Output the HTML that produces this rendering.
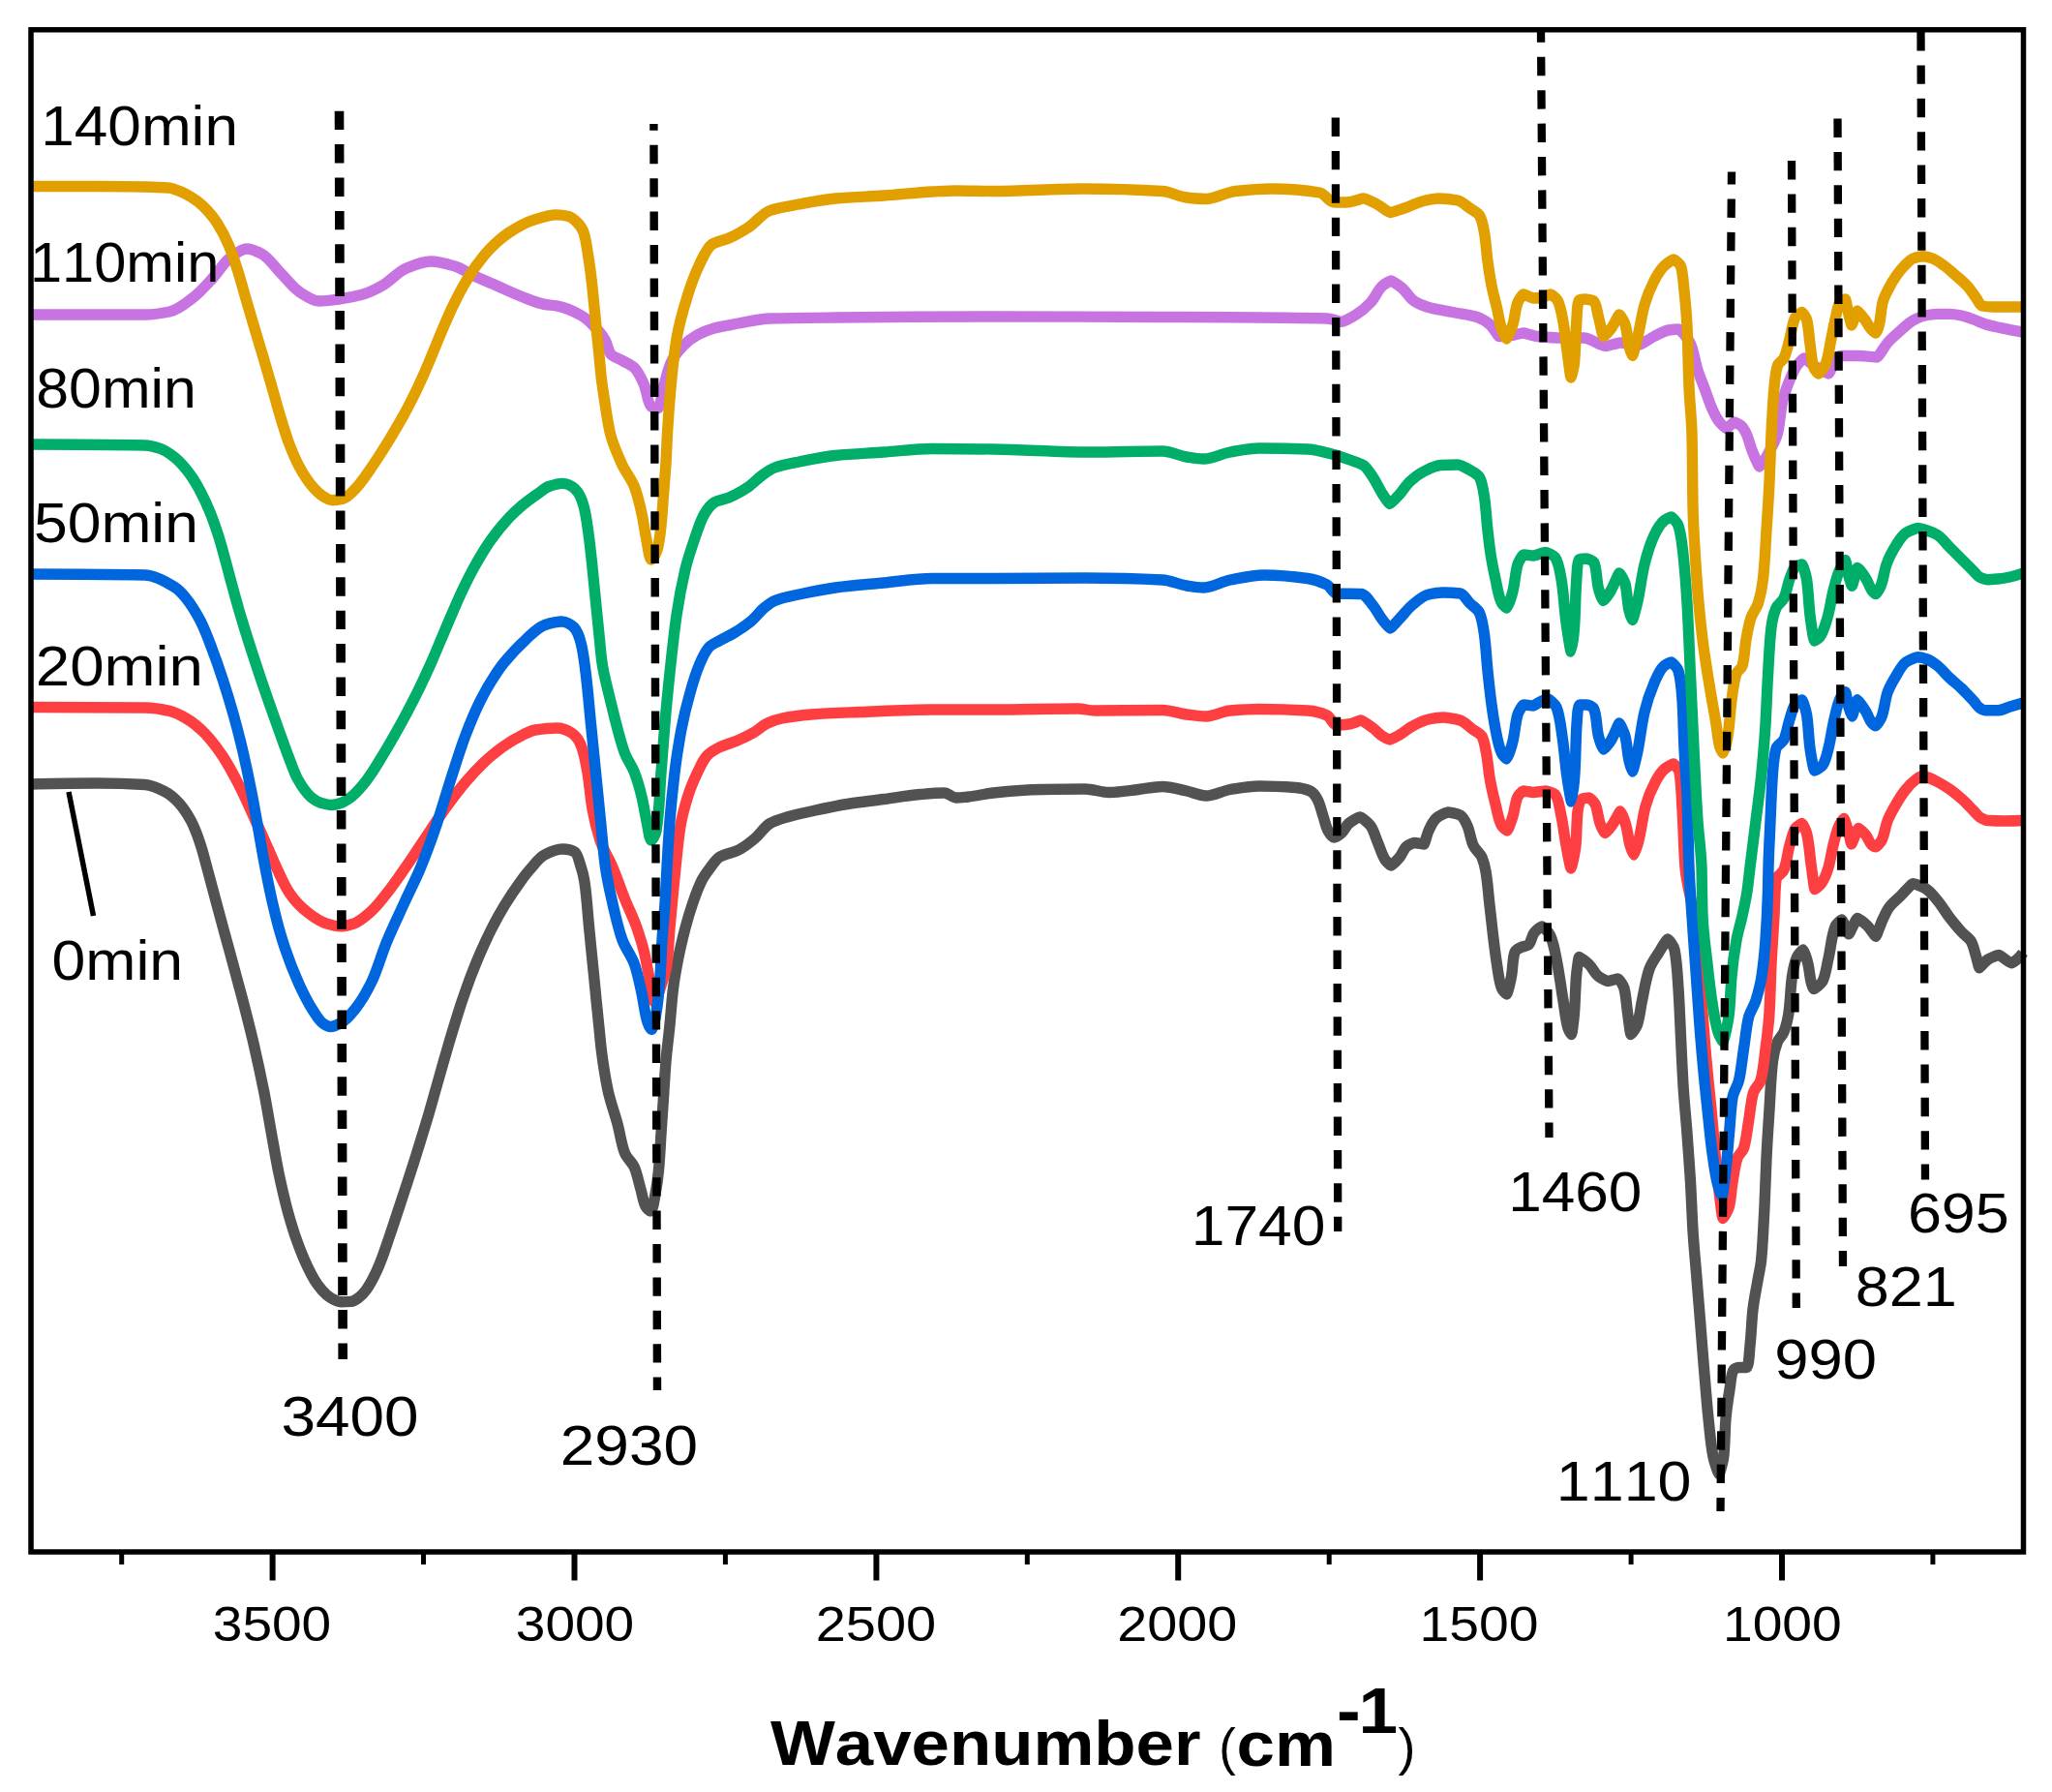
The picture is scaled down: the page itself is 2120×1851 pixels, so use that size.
<!DOCTYPE html>
<html><head><meta charset="utf-8"><title>FTIR spectra</title>
<style>html,body{margin:0;padding:0;background:#fff}svg{display:block}text{font-family:"Liberation Sans",Arial,Helvetica,sans-serif;fill:#000;font-kerning:none}</style></head>
<body>
<svg xmlns="http://www.w3.org/2000/svg" width="2120" height="1851" viewBox="0 0 2120 1851">
<rect width="2120" height="1851" fill="#fff"/>
<g fill="none" stroke-width="11.4" stroke-linejoin="round" stroke-linecap="butt">
<path stroke="#525252" d="M32.5 810C55 809.1 77.5 809 100 809C116.7 809 133.9 809.5 150 810.5C156.9 810.9 164.1 814.5 170.2 817.6C175.5 820.3 180.7 824.9 184.8 829.3C189.6 834.6 193.9 841.3 197.3 847.7C201 854.9 204 862.9 206.6 870.7C210.3 881.6 212.9 893.1 216 904.3C220.7 921.5 225.2 938.9 229.9 956.1C232.2 964.6 234.5 973.1 236.9 981.5C241.3 997.9 245.9 1014.3 250.2 1030.8C254.4 1047 258.6 1063.2 262.4 1079.6C266.2 1096 269.7 1112.4 273 1128.9C276.2 1145.7 278.9 1162.6 282 1179.4C283.9 1190.3 285.8 1201.1 288 1211.9C290.7 1224.7 293.6 1237.6 297 1250.2C299.3 1258.8 301.9 1267.4 304.7 1275.9C307.7 1284.5 310.9 1293.2 314.6 1301.6C318.4 1310.1 322.5 1319 327.8 1326.6C330.6 1330.5 333.9 1334.5 337.6 1337.6C339.7 1339.3 342.2 1341.1 344.7 1342.2C347.1 1343.3 349.8 1344.7 352.4 1344.7C355.7 1344.7 359.5 1344.6 362.7 1344.4C365.6 1344.2 368.6 1341.8 371 1340C373.7 1338 376.2 1335.1 378.3 1332.3C382.2 1327.1 385.3 1320.9 388.1 1315C390.2 1310.8 392 1306.3 393.7 1301.9C397.1 1293.1 400 1284 403.1 1275C406.1 1266.3 408.9 1257.6 411.8 1248.9C414.6 1240.5 417.3 1232.1 420.1 1223.7C422.8 1215.5 425.4 1207.4 428 1199.3C430.5 1191.3 433.1 1183.2 435.5 1175.2C438 1167.1 440.5 1158.9 442.9 1150.8C446 1140.2 449 1129.5 452 1118.8C455.3 1107.2 458.5 1095.6 461.9 1084.1C464.2 1076 466.6 1068 469.1 1060C471.7 1051.5 474.3 1043 477.1 1034.6C480 1026.2 483 1017.7 486.1 1009.3C489.3 1001 492.6 992.6 496.2 984.4C499.8 976 503.6 967.8 507.7 959.7C511.9 951.3 516.5 943.1 521.3 935.1C526.5 926.6 532.1 918.3 537.9 910.3C541.1 905.9 544.4 901.5 548 897.5C552.5 892.4 556.9 885.9 562.5 883C567.8 880.2 574.9 877 581.2 877C585.4 877 591.3 878.4 593.8 880C596.5 881.7 598.1 888.5 599.5 893C601.3 898.5 602.9 904.3 603.8 910C606.3 926.4 607.1 943.3 608.8 960C610.4 976.7 612.1 993.3 613.8 1010C615.4 1026.7 617 1043.3 618.8 1060C619.6 1067.9 620.3 1075.9 621.2 1083.8C623 1097.9 625.1 1112.1 628 1126C630.4 1137.8 634.9 1149.3 638 1161C640.7 1171 641.9 1181.8 645.5 1191C647.6 1196.3 653.2 1200.7 655.5 1206C658.4 1212.9 659.8 1221 662 1228.5C663.7 1234.3 664.4 1241.2 667 1246C668 1247.9 671 1251 672 1251C674.6 1251 675.9 1239.4 677 1233.5C678.6 1225.3 679.7 1216.9 680.5 1208.5C681.7 1196 682.2 1183.5 683 1171C683.8 1158.5 684.7 1146 685.5 1133.5C686.3 1121 687 1108.5 688 1096C689 1083.5 690.8 1071 692 1058.5C693.2 1046 694 1033.4 695.5 1021C696.7 1011 698.6 1000.9 700.5 991C702.6 980.1 705.2 969.2 708 958.5C710.2 950.1 712.7 941.7 715.5 933.5C718.4 925 721.4 916.3 725.5 908.5C727.8 904.1 731 900 734 896C736.8 892.4 739.5 887.8 743 885.5C748.4 882 756.8 881.1 763 878C769.2 874.9 775.1 870.1 780.5 865.5C785.8 861 789.8 853.8 795.5 850.5C800.5 847.6 807.1 845.8 813 844C821.2 841.6 829.6 839.8 838 838C850.4 835.3 862.9 832.5 875.5 830.5C887.9 828.5 900.5 827.2 913 825.5C925.5 823.8 938 821.5 950.5 820.5C958.8 819.8 967.5 819 975.5 819C979.8 819 983.7 824 988 824C992 824 996.3 823.4 1000.5 823C1009 822.1 1017.5 819.9 1026 819C1042.6 817.3 1059.3 815.8 1076 815.5C1091 815.2 1106.1 815 1121 815C1129.4 815 1137.6 818.5 1146 818.5C1156 818.5 1166 816.6 1176 815.5C1184.3 814.6 1192.7 812.5 1201 812.5C1209.4 812.5 1217.7 815.3 1226 817C1232.7 818.4 1239.3 822 1246 822C1254.3 822 1262.6 816.9 1271 815.5C1280.9 813.9 1291 812 1301 812C1313.5 812 1326.2 812.6 1338.5 813.5C1343.6 813.9 1349.5 815.2 1353.5 817C1356.4 818.4 1359.3 822.4 1361 825.5C1363.8 830.6 1365 837.2 1367 843C1368.7 848 1369.7 853.7 1372 858C1373.4 860.6 1376.1 865 1378.5 865C1380.7 865 1383.9 862.3 1386 860.5C1389 857.9 1390.5 853 1393.5 850.5C1396.6 847.8 1403.7 844 1405 844C1406.4 844 1413.5 849.5 1416 853C1419.4 857.7 1421 864.7 1423.5 870.5C1426 876.3 1427.7 883 1431 888C1432.5 890.2 1436.3 894 1437 894C1438 894 1443.4 888.6 1446 885.5C1448.9 882.1 1450.3 876.5 1453.5 874C1455.4 872.5 1460.1 870.5 1461 870.5C1462.1 870.5 1470.4 872 1471 872C1471.9 872 1474 862.4 1476 858C1478 853.6 1480.3 848.4 1483.5 845.5C1486.6 842.7 1494.5 839 1496 839C1497.4 839 1505.4 840.4 1508.5 842C1511.7 843.6 1514.3 849.1 1516 853C1518.7 859.1 1519.3 866.9 1522 873C1524 877.5 1529.1 881 1531 885.5C1532.8 889.9 1534.2 895.1 1535 900C1537 911.5 1537.6 923.3 1539 935C1541.4 955.3 1543.3 975.8 1546.5 996C1547.8 1004.4 1548.7 1013.8 1551.5 1021C1552.4 1023.2 1556.1 1027 1556.5 1027C1557.4 1027 1560.3 1014.7 1561.5 1008.5C1563 1000.3 1562.7 989.6 1565 983.5C1565.7 981.5 1569.1 979.6 1571.5 978.5C1573.8 977.4 1577.4 977.2 1579 976C1581.8 973.9 1582.4 966.9 1585 963.5C1586.9 961 1592.1 957 1593 957C1594.1 957 1599.9 962.6 1601.5 966C1605.5 974.4 1607 985.9 1609 996C1611.4 1008.4 1612.9 1021 1615 1033.5C1616.6 1043 1617.3 1053.1 1620 1062C1620.7 1064.3 1623.3 1068.5 1623.5 1068.5C1624.1 1068.5 1625.9 1053.5 1626.5 1046C1627.5 1033.5 1627.5 1020.9 1628.5 1008.5C1629.1 1001.8 1630.9 988.5 1631.5 988.5C1631.9 988.5 1638.6 993.2 1641.5 996C1645.3 999.6 1647.5 1005.5 1651.5 1008.5C1654.3 1010.6 1660.3 1013.5 1661.5 1013.5C1662.6 1013.5 1670.7 1011 1671.5 1011C1672.5 1011 1677.1 1017.4 1678 1021C1680 1028.6 1680.3 1037.7 1681.5 1046C1682.6 1053.5 1684.3 1068.5 1685 1068.5C1685.4 1068.5 1690.3 1062.1 1691.5 1058.5C1694.1 1050.9 1694.7 1041.8 1696.5 1033.5C1698.8 1022.6 1700.4 1011.2 1704 1001C1706.1 994.9 1710.5 989.2 1714 983.5C1716.8 978.9 1722 970 1723 970C1723.8 970 1729.2 977.1 1730 981C1732.5 993.1 1733.1 1007.6 1734 1021C1735.1 1037.6 1735.7 1054.3 1736.5 1071C1737.3 1087.7 1738 1104.3 1739 1121C1740 1137.7 1741.8 1154.3 1743 1171C1744.2 1187.7 1745.5 1204.3 1746.5 1221C1747.5 1237.7 1748 1254.3 1749 1271C1750 1287.7 1751.7 1304.3 1753 1321C1754.3 1337.3 1755.7 1353.7 1757 1370C1758.3 1386.7 1759.6 1403.3 1761 1420C1762.3 1435 1763.4 1450 1765 1465C1766.4 1478.4 1767.4 1492 1770 1505C1771.2 1511 1775.4 1522.5 1776 1522.5C1776.7 1522.5 1780.4 1509.3 1781 1502.5C1782.2 1490.2 1782 1477.5 1783 1465C1783.8 1455 1785.4 1444.9 1787 1435C1788.1 1428.3 1788.5 1418.5 1791 1415C1791.8 1413.9 1794.9 1412.5 1797 1412.5C1799.4 1412.5 1803.7 1412.5 1804.5 1412.5C1806.8 1412.5 1807.2 1397.5 1808 1390C1809.4 1377.6 1809.6 1364.9 1811 1352.5C1812.1 1342.4 1814.3 1332.5 1816 1322.5C1817.1 1315.8 1818.8 1309.2 1819.5 1302.5C1820.8 1290.1 1821.3 1277.5 1822 1265C1822.4 1258.7 1822.7 1252.3 1823 1246C1823.8 1229.3 1824.2 1212.7 1825 1196C1825.8 1179.3 1826.9 1162.7 1828 1146C1829.1 1129.3 1829.5 1112.4 1831.5 1096C1832.3 1089.3 1834.1 1082.1 1836.5 1076C1837.9 1072.4 1841.6 1069.6 1843 1066C1845.4 1059.9 1847 1052.7 1848 1046C1849.8 1033.7 1849.7 1020.8 1851.5 1008.5C1852.5 1001.8 1853.9 994.3 1856.5 988.5C1857.7 985.7 1862.5 981 1863 981C1863.8 981 1866.8 990.9 1868 996C1869.5 1002.5 1869.7 1009.6 1871.5 1016C1872 1017.9 1873.6 1021.6 1874 1021.6C1874.7 1021.6 1881.4 1016.6 1883 1013.5C1886.2 1007.2 1887.1 997.9 1889 990C1891.7 978.7 1892.2 965.1 1896.5 956C1897.6 953.7 1902.2 950 1902.8 950C1903.8 950 1909.1 964.8 1910 964.8C1911 964.8 1917.7 948.4 1919 948.4C1919.9 948.4 1926.1 953.1 1929 956C1932.3 959.2 1937 967.2 1937.8 967.2C1938.8 967.2 1942.4 955.6 1945 950C1947 945.8 1948.9 941.2 1951.5 937.5C1954.8 932.8 1959.8 929.1 1964 925C1968.1 920.9 1974.8 912.8 1976.5 912.8C1977.8 912.8 1985.4 915.4 1989 917.5C1993.8 920.2 1997.7 925.6 2001.5 930C2006.1 935.4 2009.6 941.8 2014 947.5C2018 952.6 2022.1 957.7 2026.5 962.5C2029.7 966 2034.4 968.7 2036.5 972.5C2038.8 976.8 2040 982.5 2041.5 987.5C2042.7 991.6 2044.4 999.8 2045 999.8C2045.6 999.8 2050.6 993 2054 991C2057.2 989.1 2063.8 986.5 2065 986.5C2066.6 986.5 2076.3 994.8 2077.8 994.8C2078.6 994.8 2082.9 991.9 2085 990C2086.9 988.3 2088.6 986.3 2090 984"/>
<path stroke="#fd3f42" d="M32.5 730.5C72 730.5 111 730.6 150 731C158.4 731.1 167.2 732.6 175.2 734.4C181.7 735.8 188.2 739.6 193.9 743C200 746.7 205.8 751.7 210.9 756.8C217.9 763.8 224.1 772.2 229.7 780.5C235.7 789.5 240.9 799.3 245.9 809C251.7 820.2 256.8 831.8 262 843.3C267.1 854.1 272 865 276.8 876C280 883.1 282.9 890.4 286.3 897.5C290.3 906 294.1 915.2 299.3 922.8C304.4 930.3 311.4 937.6 318.5 943C324.2 947.4 330.9 952.1 337.7 954.1C342 955.4 346.9 956.9 351.5 956.9C355.9 956.9 360.8 955.5 364.9 954.2C371.8 952.1 378.2 946 383.8 941C390.8 934.7 396.7 926.4 402.7 918.7C408.6 911.2 413.9 903.2 419.4 895.3C426.8 884.7 433.7 873.8 441 863.1C447.7 853.1 454.3 843 461.4 833.2C467.7 824.6 474.1 815.9 481 807.8C487 800.7 493.4 793.8 500.1 787.4C504.2 783.5 508.4 779.8 512.8 776.4C519.2 771.6 525.9 766.9 532.8 763.1C539.3 759.6 546 755.1 553 754C560.2 752.9 568.2 752 575.5 752C580.6 752 586.6 754.6 590.5 757C594.6 759.5 598.6 765.6 600.5 770.5C603.7 778.7 605.4 788.8 607 798C609.1 810.4 609.8 823.1 612 835.5C613.9 846.4 616.6 857.5 620 868C623.1 877.6 629 886.5 633 896C637.5 906.7 641.2 917.7 645.5 928.5C649.5 938.6 654.5 948.3 658 958.5C660.8 966.7 663.5 975.1 665.5 983.5C667.5 991.7 668.8 1000.2 670.5 1008.5C672.3 1017.3 673.6 1035 676 1035C677.7 1035 681.1 1023.8 683 1018C685.4 1010.8 688 1003.4 689 996C690.6 983.7 690.9 971 692 958.5C693.1 946 694.3 933.5 695.5 921C696.3 912.7 697.1 904.3 698 896C699.5 881.7 700.7 867.2 703 853C704.6 842.9 707.5 832.8 710.5 823C713.1 814.5 716.7 806 720.5 798C723.4 792 726.3 785 730.5 780.5C733.7 777.1 738.6 774.2 743 772C748.5 769.3 754.8 767.9 760.5 765.5C766.5 763 772.4 760.2 778 757C783.2 754.1 787.7 749.4 793 747C797.7 744.9 802.9 743 808 742C817.8 740 828 738.8 838 738C854.6 736.7 871.3 736.2 888 735.5C913 734.5 938 733 963 733C984 733 1005 733 1026 733C1055.2 733 1084.4 732 1113.5 732C1119.3 732 1125.2 734 1131 734C1154.2 734 1177.9 733.5 1201 733.5C1209.4 733.5 1217.6 736.9 1226 738C1232.6 738.8 1239.4 740 1246 740C1254.4 740 1262.6 734.7 1271 734C1280.9 733.2 1291 732.5 1301 732.5C1317.7 732.5 1334.6 733 1351 734C1357.8 734.4 1365.4 736.4 1371 739C1374.8 740.8 1377.1 749 1381 749C1384.5 749 1389.4 748.5 1393.5 748C1397.8 747.4 1404.6 744 1406 744C1407.5 744 1414.5 749.1 1418.5 752C1422 754.6 1424.9 758.3 1428.5 760.5C1430.8 761.9 1435.1 764 1436 764C1437.2 764 1442.8 760.8 1446 759C1450.3 756.5 1454.1 752.9 1458.5 750.5C1464 747.5 1469.9 744.2 1476 743C1480.8 742 1489.3 741 1491 741C1493 741 1503.2 742.4 1508.5 744C1513.1 745.4 1516.9 750 1521 753C1524.4 755.5 1529.4 757.5 1531 760.5C1533.7 765.5 1534.8 773.8 1536 780.5C1537.3 787.9 1537.8 795.6 1539 803C1540.5 812.2 1542.7 821.4 1545 830.5C1546.9 838.1 1548.1 847 1551.5 853C1552.6 854.9 1556.6 858 1557 858C1558 858 1561.4 848.1 1563 843C1565 836.5 1565.3 828.5 1568 823C1569.1 820.7 1573.2 817 1574 817C1575 817 1582.8 818.5 1584 818.5C1585.5 818.5 1595.1 817 1596.5 817C1597.7 817 1604.9 818.9 1606.5 820.5C1610.1 824.1 1611.4 835.4 1613 843C1615.1 852.9 1616.1 863 1618 873C1619.5 881 1622.4 897 1623 897C1623.6 897 1627.2 881.1 1628 873C1629.1 861.5 1628.7 849.4 1630 838C1630.5 833.8 1631.9 826.8 1634 825.5C1635.2 824.7 1640.8 824 1641.5 824C1642.4 824 1646.8 828 1648 830.5C1650.6 836 1650.8 844.1 1653 850.5C1654.2 854 1657.3 860.5 1658 860.5C1658.6 860.5 1663 855.7 1665 853C1668.5 848.4 1673.1 838 1674 838C1674.8 838 1678.6 847.9 1680 853C1681.8 859.5 1682.2 866.5 1684 873C1685 876.4 1687.6 883 1688 883C1688.6 883 1691.7 873.1 1693 868C1696 856.6 1696.9 844.3 1700 833C1702.3 824.5 1705.9 815.7 1710 808C1712.6 803 1715.9 797.4 1720 794C1722.4 792 1728.2 789 1729 789C1729.9 789 1734.4 794.8 1735 798C1737 809.2 1737.2 823 1738 835.5C1739.3 855.6 1739.4 876 1741 896C1742.3 912.8 1747.8 929.2 1750 946C1752.1 962.6 1753.5 979.3 1755 996C1756.5 1012.7 1757.7 1029.3 1759 1046C1760.3 1062.7 1761.5 1079.3 1763 1096C1764.5 1112.7 1766.4 1129.3 1768 1146C1769.4 1161 1770.6 1176 1772 1191C1773.2 1204 1774.5 1217 1776 1230C1777.1 1239.5 1779.2 1258.5 1780 1258.5C1780.4 1258.5 1785.4 1250.4 1786.5 1246C1788.4 1238.2 1788.6 1229.3 1790 1221C1791.4 1212.6 1792.4 1203.6 1795 1196C1796.2 1192.4 1800.4 1189.6 1801.5 1186C1804.2 1177.7 1804.9 1167.7 1806.5 1158.5C1808.2 1148.5 1808.8 1137.7 1811.5 1128.5C1812.8 1124.1 1817.8 1120.4 1819 1116C1821.8 1106 1822.6 1094.4 1824 1083.5C1825.6 1071 1827.3 1058.5 1828 1046C1829 1029.4 1829.2 1012.7 1830 996C1830.8 979.3 1832.1 962.7 1833 946C1833.7 933.5 1833.6 919.3 1835 908.5C1835.5 904.8 1841.5 902.2 1843 898.5C1846.1 891 1846.6 881.4 1849 873C1850.7 867.1 1852 859.9 1855 855.5C1856.3 853.5 1860.9 850.5 1861.5 850.5C1862.3 850.5 1865.6 857 1866.5 860.5C1869.3 871.6 1869.7 884.2 1871.5 896C1872.6 903.5 1874.3 918.5 1875 918.5C1875.3 918.5 1880.3 914.5 1882 912C1885.1 907.5 1887.4 901.5 1889 896C1891.2 888.6 1892.1 880.6 1894 873C1895.7 866.3 1897.2 859.1 1900 853C1901.2 850.3 1904.6 845.5 1905 845.5C1905.8 845.5 1908.6 855.4 1910 860.5C1911 864.3 1912.4 872 1912.8 872C1913.4 872 1918.9 855.5 1920 855.5C1920.7 855.5 1925.8 860.2 1928 863C1930.3 866 1931.3 870.9 1934 873C1934.9 873.7 1937.4 874.8 1937.8 874.8C1938.6 874.8 1942.7 870.5 1944 868C1947 862.3 1947.5 854.4 1950 848C1952.3 842 1955.7 836.1 1959 830.5C1962 825.3 1965.2 820.1 1969 815.5C1971.9 811.9 1975.3 808.2 1979 805.5C1981.1 804 1985.1 801.5 1986 801.5C1986.8 801.5 1990.7 802.7 1993 803.5C1995.9 804.5 1998.7 806.1 2001.5 807.5C2005.8 809.7 2010 812.3 2014 815C2018.4 818 2022.5 821.5 2026.5 825C2030.9 828.9 2034.9 833.3 2039 837.5C2041 839.6 2042.7 842.3 2045 843.8C2047.6 845.4 2050.9 847.3 2054 847.5C2059.1 847.8 2068.1 848 2070 848C2072.3 848 2083.3 847.9 2090 847.5"/>
<path stroke="#0066dd" d="M32.5 593C73.9 593 112.6 593.2 150 594C160.4 594.2 171.5 600.9 180.3 606.4C184.4 609 188.2 613 191.4 616.8C197.4 624.1 202.6 632.7 207 641.2C211.5 650 215 659.4 218.5 668.7C222.9 680.1 226.9 691.7 230.6 703.3C234.6 715.5 238.3 727.8 241.7 740.1C245.1 752.4 248.3 764.8 251.2 777.2C254.3 790.5 257.1 803.9 259.7 817.3C262.5 831.3 264.9 845.4 267.4 859.5C268.6 866.3 269.8 873.1 271 879.9C272.1 885.7 273.1 891.5 274.2 897.3C276.4 908.6 278.6 919.8 281.2 931C283.1 939.4 285.2 947.8 287.4 956.2C289.6 964 291.9 971.9 294.5 979.6C298.7 992.1 303.5 1004.5 308.9 1016.4C313.1 1025.5 317.6 1034.8 323 1043.2C326.3 1048.2 329.6 1054.6 334.2 1057.5C336.2 1058.8 339 1060.5 341.5 1060.5C344.9 1060.5 348.8 1058.5 351.8 1056.9C357.6 1053.9 362.6 1047.7 366.8 1042.4C373.6 1033.9 379.4 1023.6 384.2 1013.6C390.2 1000.8 393.9 986.5 399.4 973.2C405.2 959.1 411.9 945.4 418.2 931.5C423.6 919.9 429.4 908.6 434.3 896.8C439.7 883.8 444.6 870.5 449.2 857.2C455.1 840.3 459.9 823 465.4 805.9C470.4 790.8 475 775.5 480.5 760.6C485.2 748.2 490.2 735.9 496.1 724.1C500.9 714.5 506.4 705 512.4 696C514.9 692.2 517.6 688.4 520.4 684.9C527.3 676.4 534.8 668.2 542.9 660.9C549.1 655.3 555.5 647.9 563 645.5C568.3 643.8 574.9 642 580.5 642C584.8 642 590.4 645.3 593 648C596.6 651.7 599.1 659.5 600.5 665.5C603 675.9 604.2 687.1 605.5 698C607.5 714.6 608.8 731.3 610.5 748C612.2 764.7 613.8 781.3 615.5 798C617.2 814.7 618.8 831.3 620.5 848C622.1 864 623.3 880.1 625.5 896C627.2 908.6 630.2 921.1 633 933.5C635.9 946.1 638.7 959 643 971C646.1 979.6 652.6 987.3 655.5 996C658.8 1005.6 660.8 1015.9 663 1026C665.2 1035.9 665.9 1046.6 669 1056C669.9 1058.6 672 1063.5 673 1063.5C675.2 1063.5 677 1051.9 678 1046C680 1033.7 681.1 1021 682 1008.5C682.9 996 683.2 983.5 684 971C684.8 958.5 686.2 946 687 933.5C687.8 921 688.3 908.5 689 896C689.9 880 690.8 864 692 848C693.3 831.3 695 814.6 697 798C698.8 782.9 701.2 767.9 704 753C706.4 740.4 709.5 727.8 713 715.5C715.8 705.4 718.9 695 723 685.5C725.6 679.4 728.7 672.2 733 668C735.5 665.5 739.6 663.9 743 662C747.9 659.2 753.2 656.9 758 654C764 650.4 770.1 646.4 775.5 642C780.9 637.6 785 631.3 790.5 627C793.6 624.6 797 621.9 800.5 620.5C808.2 617.4 817.1 615.8 825.5 614C837.9 611.3 850.4 608.7 863 607C879.6 604.8 896.3 603.6 913 602C929.7 600.4 946.3 597.5 963 597.5C984 597.5 1005 597.5 1026 597.5C1057.7 597.5 1089.3 597 1121 597C1147.7 597 1174.8 597.6 1201 599C1209.4 599.4 1217.6 603.7 1226 605C1231.8 605.9 1237.8 607 1243.5 607C1252.8 607 1261.7 600.8 1271 599C1282.5 596.8 1294.3 594 1306 594C1320.9 594 1336.4 595.5 1351 597.5C1357.8 598.4 1365.2 601 1371 604C1374.7 605.9 1377.2 612.8 1381 613C1388 613.4 1399.1 613.2 1406 613.5C1410.8 613.7 1414.9 621.1 1418.5 625.5C1422.3 630 1424.8 635.8 1428.5 640.5C1430.8 643.5 1435.1 649 1436 649C1437.1 649 1442.7 642.4 1446 639C1450.3 634.6 1453.9 629.4 1458.5 625.5C1463.7 621.1 1469.6 615.4 1476 614C1480.6 613 1489.2 612 1491 612C1493 612 1503.7 612.4 1508.5 613C1512.4 613.5 1515.2 619.7 1518.5 623C1521.8 626.3 1526.9 629.2 1528.5 633C1531.2 639.2 1532.5 647.9 1533.5 655.5C1535.2 667.9 1535.7 680.5 1537 693C1537.9 702 1538.9 711 1540 720C1541.4 731 1542.9 742.1 1545 753C1546.6 761.4 1548.1 770.8 1551.5 778C1552.5 780.2 1556.1 784 1556.5 784C1557.5 784 1561.5 771.8 1563 765.5C1565.2 756.5 1565.4 746.5 1568 738C1569.1 734.5 1573.1 728 1574 728C1574.8 728 1582.9 729 1584 729C1585.1 729 1589.9 725.3 1593 724C1594.9 723.2 1598.4 722 1599 722C1600.2 722 1606.6 727.2 1608 730.5C1611.4 738.5 1612.5 750.4 1614 760.5C1616.1 774.6 1617 788.9 1619 803C1620.2 811.4 1623.1 828 1623.5 828C1624 828 1626.4 808 1627 798C1628 781.4 1627.9 764.6 1629 748C1629.5 741.3 1630 728 1632 728C1632.7 728 1636.8 728 1639 728C1641.7 728 1645.6 730.3 1646.5 732C1649.7 737.8 1649.2 751.3 1651.5 760.5C1652.7 765.1 1655.7 774 1656.5 774C1657.1 774 1662 768.6 1664 765.5C1667.7 759.9 1672 747 1673 747C1673.7 747 1677.8 755.8 1679 760.5C1681 768.5 1681.2 777.3 1683 785.5C1683.9 789.4 1686.1 797 1686.5 797C1687.1 797 1690.1 784.4 1691.5 778C1694.5 764 1695.7 749.4 1699 735.5C1701.4 725.3 1704.9 715 1709 705.5C1711.6 699.4 1714.6 691.9 1719 688C1720.9 686.3 1725.8 684 1726.5 684C1727.5 684 1733.1 689.7 1734 693C1736.4 701.6 1737.4 713 1738 723C1739.1 739.6 1739.2 756.3 1740 773C1740.8 789.7 1742.4 806.3 1743 823C1743.9 847.3 1744.1 871.7 1745 896C1745.6 912.7 1746.9 929.3 1748 946C1749.1 962.7 1750.3 979.3 1751.5 996C1752.7 1012.7 1753.8 1029.3 1755 1046C1756.2 1062.7 1757.5 1079.3 1759 1096C1760.5 1112.7 1762.2 1129.3 1764 1146C1765.6 1161 1767 1176.1 1769 1191C1770.4 1201 1771.7 1211.2 1774 1221C1775.2 1226.1 1778.6 1236 1779 1236C1779.7 1236 1781.9 1217.7 1783 1208.5C1784.4 1196 1785.3 1183.5 1786.5 1171C1787.7 1158.5 1788 1145.6 1790 1133.5C1791 1127.5 1795.1 1122 1796.5 1116C1798.9 1105.5 1799.8 1094.3 1801.5 1083.5C1803.2 1072.7 1804 1061.4 1806.5 1051C1807.9 1045 1812.1 1039.5 1814 1033.5C1816.5 1025.4 1818.7 1016.9 1820 1008.5C1821.9 996.1 1823.1 983.5 1824 971C1825.2 954.4 1826 937.7 1826.5 921C1826.7 912.7 1826.8 904.3 1827 896C1827.4 880 1828.3 864 1829 848C1829.8 831.3 1830.2 814.6 1831.5 798C1832.2 789.6 1832.9 780.1 1835 773C1836 769.6 1841.4 767.3 1843 764C1845.9 758 1846.7 749.9 1849 743C1850.8 737.6 1852 730.7 1855 727C1856.3 725.3 1861.1 723 1861.5 723C1862.4 723 1865.6 732.9 1866.5 738C1868.4 749.4 1868.4 761.4 1870 773C1871.1 780.7 1873.7 796 1874.6 796C1875 796 1881.4 792.8 1883 790.5C1886 786.3 1887.5 778.9 1889 773C1891.5 763.2 1892.6 752.9 1895 743C1896.8 735.4 1898.3 727 1901.5 720.5C1902.6 718.3 1906.2 714.6 1906.5 714.6C1907.2 714.6 1908.6 725.3 1910 730.5C1910.9 733.7 1913 740 1913.4 740C1914.1 740 1918.1 722.8 1919 722.8C1919.7 722.8 1925.3 731.1 1928 735.5C1930.2 739.2 1931.3 744 1934 747C1935 748.1 1937.4 749.8 1937.8 749.8C1938.6 749.8 1942.7 743.8 1944 740.5C1947 732.9 1947.3 723.4 1950 715.5C1952.1 709.4 1955.6 703.6 1959 698C1961.9 693.1 1964.9 687 1969 684C1972.3 681.7 1980 678.8 1981.5 678.8C1982.6 678.8 1988 680 1991 681C1994.7 682.3 1998.3 685 2001.5 687.5C2006.1 691 2009.7 696 2014 700C2018 703.8 2022.5 707.2 2026.5 711C2030.8 715.1 2035 719.5 2039 724C2041.1 726.3 2042.6 729.4 2045 731C2046.8 732.2 2049.3 733.8 2051.5 733.8C2055.5 733.8 2059.9 733.8 2064 733.8C2068.3 733.8 2072.3 731.2 2076.5 730C2081 728.7 2085.5 727.3 2090 726"/>
<path stroke="#00ae6a" d="M32.5 459C72.5 459 111.4 459.2 150 460C155 460.1 160.3 461.7 164.9 463.2C170.2 465 175.4 468.6 179.8 472C184.5 475.5 188.6 480.2 192.4 484.8C194.7 487.5 196.8 490.5 198.8 493.5C201.2 497.2 203.5 501 205.6 504.9C209.8 512.7 213.6 520.7 216.9 528.9C220.2 536.9 223 545.3 225.7 553.6C228.3 561.8 230.5 570.2 232.8 578.5C235.1 586.9 237.2 595.3 239.5 603.6C241.6 611.6 243.9 619.5 246.1 627.5C248.4 635.2 250.7 642.9 253 650.5C258.2 667.2 263.6 683.8 269.2 700.4C274.9 717.2 280.8 733.9 286.8 750.6C290.5 760.9 294.1 771.3 298.1 781.6C301.2 789.4 303.8 797.7 307.7 804.9C311.3 811.4 315.8 818.5 321.2 823.2C324.2 825.7 328.1 828.4 331.9 829.4C335.3 830.4 339.3 831.5 342.9 831.5C346.3 831.5 349.9 830.3 353.1 829.2C355.8 828.3 358.5 826.4 360.9 824.7C366.4 820.7 371.3 815.1 375.7 809.8C379 806 381.8 801.6 384.7 797.4C388.6 791.6 392.1 785.6 395.7 779.6C399.8 772.9 403.7 766.2 407.6 759.4C410 755.1 412.4 750.8 414.8 746.5C421.3 734.4 427.7 722.3 433.7 709.9C437.9 701.3 441.9 692.5 445.9 683.6C449.3 675.9 452.5 668.1 455.8 660.3C459.4 651.9 462.8 643.5 466.5 635.1C470.1 626.7 473.8 618.2 477.7 609.9C481.7 601.4 485.9 592.9 490.5 584.7C495.3 576.2 500.3 567.6 505.9 559.6C512 550.9 518.8 542.4 526 534.7C530 530.4 534.3 526.4 538.7 522.6C544.1 518.1 549.8 514 555.6 510C559.3 507.4 562.9 503.9 567 502.5C571.4 501 576.7 499.4 581.2 499.4C585.6 499.4 591.1 502.5 594 505C598.1 508.6 601.3 516.4 603 522.5C605.2 530.4 606.3 539.1 607.5 547.5C609.3 559.9 610.6 572.5 611.9 585C613.2 597.5 614.4 610 615.6 622.5C616.8 635 618.1 647.5 619.4 660C620.2 667.9 620.8 675.9 621.9 683.8C623.7 697 627.4 710 630.5 723C632.9 733 635.3 743.1 638 753C640.3 761.4 642.4 770 645.5 778C648.1 784.9 652.9 791.1 655.5 798C658.6 806 661 814.6 663 823C665 831.2 666.2 839.7 668 848C669.5 854.7 670.8 868 673 868C674.2 868 677.4 861.5 678 858C681.3 839.3 681.4 818 683 798C684.7 777.2 686.1 756.3 688 735.5C689.5 718.8 691.2 702.1 693 685.5C694.8 668.8 696.6 652.1 699 635.5C701.3 619.6 704.3 603.6 708 588C710.6 577 714.3 566.2 718 555.5C721 547.1 723.6 537.9 728 530.5C730.5 526.3 734.1 521.3 738 519C742.1 516.6 748.2 516 753 514C759.9 511.1 766.8 507.2 773 503C778.3 499.4 782.7 494.2 788 490.5C791.9 487.7 796.1 484.6 800.5 483C808.3 480.1 817.1 478.7 825.5 477C837.9 474.5 850.4 471.8 863 470.5C879.6 468.8 896.3 468.2 913 467C929.7 465.8 946.3 463.5 963 463.5C984 463.5 1005 463.7 1026 464C1059.3 464.4 1092.7 467 1126 467C1151 467 1176.4 466 1201 466C1209.4 466 1217.6 470.7 1226 472C1231.8 472.9 1237.7 474 1243.5 474C1252.8 474 1261.7 468.6 1271 467C1280.9 465.3 1291 463 1301 463C1317.6 463 1334.5 463.3 1351 464C1359.4 464.3 1367.8 466.9 1376 469C1382.8 470.7 1389.4 473.1 1396 475.5C1400.2 477 1405.1 478.3 1408.5 480.5C1412.5 483.2 1415.5 488.6 1418.5 493C1422.2 498.5 1424.8 504.9 1428.5 510.5C1430.8 514 1435.1 520.5 1436 520.5C1437.1 520.5 1442.9 514 1446 510.5C1449.5 506.5 1452.3 501.6 1456 498C1460.4 493.8 1465.6 489.7 1471 487C1476.4 484.3 1482.5 480.8 1488.5 480.5C1494.1 480.2 1504.1 480 1506 480C1507.5 480 1514.6 483.3 1518.5 485.5C1522.1 487.5 1526.9 490 1528.5 493C1531.2 498 1532.5 506.3 1533.5 513C1535.2 524.5 1535.7 536.4 1537 548C1537.9 556 1538.8 564 1540 572C1541.3 580.7 1543.1 589.4 1545 598C1546.9 606.4 1548 616.2 1551.5 623C1552.5 624.9 1556.1 628 1556.5 628C1557.6 628 1561.5 616.5 1563 610.5C1565.2 601.6 1565.4 591.5 1568 583C1569.1 579.5 1573.1 573 1574 573C1574.8 573 1582.9 574 1584 574C1585.5 574 1595.1 570.5 1596.5 570.5C1597.7 570.5 1604.8 573.3 1606.5 575.5C1610 580.1 1611.7 590.4 1613 598C1615.5 612.7 1616 628.1 1618 643C1619.4 653 1622.5 673 1623 673C1623.4 673 1625.9 656.4 1626.5 648C1627.6 633.1 1627.5 617.9 1628.5 603C1629.1 594.6 1629.4 579.7 1631.5 578C1632.1 577.5 1638.2 577 1639 577C1639.9 577 1645.6 579 1646.5 580.5C1649.7 585.6 1649.2 599.1 1651.5 608C1652.6 612.3 1655.8 620.5 1656.5 620.5C1657.2 620.5 1661.9 614 1664 610.5C1667.5 604.7 1671.9 592 1673 592C1673.7 592 1678 599.1 1679 603C1681.2 611.6 1681 621.6 1683 630.5C1683.8 633.9 1686.1 640.5 1686.5 640.5C1687.1 640.5 1690.1 628.9 1691.5 623C1694.6 609.8 1695.8 596.1 1699 583C1701.5 572.8 1704.6 562.3 1709 553C1711.5 547.7 1714.8 541.5 1719 538C1721 536.4 1725.8 534 1726.5 534C1727.5 534 1732.9 539.7 1734 543C1736.9 551.6 1737.9 563 1739 573C1740.8 589.6 1742 606.3 1743 623C1744.5 648 1745.3 673 1746.5 698C1747.7 723 1748.8 748 1750 773C1751.2 798 1752.3 823 1754 848C1755.1 864 1757.5 880 1758 896C1758.5 912.6 1758.4 929.4 1759 946C1759.6 962.7 1762.1 979.4 1764 996C1765.5 1009.4 1766.9 1022.7 1769 1036C1770.6 1046.1 1772 1056.5 1775 1066C1776.1 1069.5 1779.6 1076 1780 1076C1781.1 1076 1785.4 1056.1 1786.5 1046C1787.8 1033.6 1787.9 1021 1789 1008.5C1790.1 996 1791.8 983.4 1794 971C1795.5 962.6 1798.2 954.4 1800 946C1801.8 937.7 1803.7 929.4 1805 921C1806.2 912.7 1807 904.3 1808 896C1810 880 1812 864 1814 848C1816 831.3 1818.4 814.7 1820 798C1821.6 781.4 1823 764.7 1824 748C1825 731.3 1825.5 714.7 1826.5 698C1827.5 681.3 1828 664.4 1830 648C1830.8 641.3 1832.5 633.9 1835 628C1836.5 624.3 1841.3 621.6 1843 618C1845.8 612.1 1846.6 604.5 1849 598C1850.6 593.7 1852.2 587.8 1855 585.5C1856.4 584.4 1861.1 583 1861.5 583C1862.4 583 1865.7 592.9 1866.5 598C1868.4 610.2 1868.5 623.1 1870 635.5C1871.1 644.4 1873.6 662 1874.6 662C1874.9 662 1878.8 659.6 1880 658C1883.9 653 1886 644.8 1888 638C1890.6 629.1 1891.7 619.6 1894 610.5C1895.7 603.6 1897.4 596.5 1900 590C1901.6 586 1906 578.4 1906.5 578.4C1907.1 578.4 1908.6 589.6 1910 595C1910.9 598.5 1913 605.4 1913.4 605.4C1914.1 605.4 1918.1 586.5 1919 586.5C1919.7 586.5 1925.5 593.9 1928 598C1930.3 601.7 1931.4 606.6 1934 610C1935 611.3 1937.4 613.5 1937.8 613.5C1938.5 613.5 1941.8 608.3 1943 605.5C1945.9 598.6 1946.5 590.2 1949 583C1951.4 576.1 1955.1 569.2 1959 563C1961.8 558.6 1965 553.2 1969 550.5C1972.4 548.3 1980 545.5 1981.5 545.5C1982.6 545.5 1987.9 547 1991 548C1994.6 549.2 1998.4 550.6 2001.5 552.5C2006.3 555.4 2009.8 560.8 2014 565C2018.2 569.2 2022.3 573.3 2026.5 577.5C2030.7 581.7 2034.8 585.8 2039 590C2041 592 2042.7 594.8 2045 596C2047.5 597.3 2052.9 598.8 2054 598.8C2055.1 598.8 2060.7 598.3 2064 598C2068.2 597.6 2072.4 596.9 2076.5 596C2081.1 595.1 2085.6 593.6 2090 592"/>
<path stroke="#c774e2" d="M32.5 325C71.9 325 111 325 150 325C158.4 325 167.3 323.6 175 322C184 320.1 192.5 312.8 200 307C207.3 301.4 213.6 293.9 220 287C225.9 280.6 230.5 272.1 237 267C242.1 263 248.7 257 255 257C259.8 257 265.7 259.8 270 262C277.7 266 283.3 275.3 290 282C296.7 288.7 302.4 297.2 310 302C315.9 305.8 323 311 330 311C336.4 311 343.4 309.9 350 309C358.4 307.9 367 306.3 375 304C381.9 302 388.7 298.5 395 295C403.8 290.1 410.9 280.7 420 277C427.6 273.8 436.6 270 445 270C453.3 270 462.1 272.7 470 275C477 277 483.3 281.9 490 285C497.6 288.5 505.3 291.7 513 295C521.3 298.6 529.5 302.7 538 306C546.2 309.1 554.4 313.1 563 314.5C566.9 315.1 571.1 315.2 575 315.9C583.6 317.4 592.5 321.4 600 325.6C604.5 328.1 608.8 331.9 612.5 335.6C617.1 340.2 621.9 345.4 625 351C627.6 355.6 628.3 362.6 631.2 366C633.7 368.8 639.1 370.3 643 372.5C647.2 374.9 652.4 376.9 655.5 380C659.8 384.3 662.9 391.4 665.5 397.5C668.6 404.7 668.8 416.6 673 420C674.1 420.9 678 422 679 422C682.7 422 683.3 407.3 685.5 400C688 391.7 689.6 382.6 693 375C695.8 368.7 700.7 362.5 705.5 357.5C709.7 353.1 715.1 348.9 720.5 346C725.9 343.1 732 340.6 738 339C746.1 336.8 754.6 335.5 763 334C773.8 332.1 784.6 329.3 795.5 329C817.9 328.3 840.5 328.2 863 328C917.3 327.5 971.7 327 1026 327C1084.3 327 1142.7 327.2 1201 327.5C1257.7 327.7 1315.3 327.7 1371 329C1376 329.1 1384.3 332.5 1386 332.5C1387.8 332.5 1396.4 327.9 1401 325C1406.4 321.6 1411.7 317.2 1416 312.5C1420.8 307.4 1423.4 299.4 1428.5 295C1430.8 293 1436 290 1437 290C1438.4 290 1445 294.7 1448.5 297.5C1453.1 301.3 1456.2 307.9 1461 311C1465.3 313.8 1470.8 316 1476 317.5C1484 319.8 1492.7 320.8 1501 322.5C1509.3 324.2 1518.2 325 1526 327.5C1530.6 329 1535.4 332 1539 335C1542.9 338.2 1547.6 347.5 1549 347.5C1550.4 347.5 1559 346.7 1564 346C1567.4 345.5 1572.8 344 1574 344C1575.8 344 1583.9 347 1589 347.5C1597.2 348.3 1605.7 349 1614 349C1621.5 349 1629.3 349 1636.5 349C1641.7 349 1646.4 353.2 1651.5 355C1654 355.9 1658.1 357.5 1659 357.5C1660.7 357.5 1672.2 354 1674 354C1676.3 354 1691.8 356 1694 356C1695.9 356 1703.9 350 1709 347.5C1713.9 345.1 1718.8 341.8 1724 341C1727.2 340.5 1733.1 340 1734 340C1735.8 340 1744 349.5 1746.5 355C1750.1 363.1 1751.1 373.5 1754 382.5C1756.2 389.3 1759 395.8 1761.5 402.5C1764 409.2 1766.1 416.1 1769 422.5C1771.1 427.1 1773.4 432.2 1776.5 436C1778.5 438.5 1783.1 442.5 1784 442.5C1784.9 442.5 1790.6 436 1791.5 436C1792.3 436 1797.1 438.3 1799 440C1801.1 441.8 1802.7 444.9 1804 447.5C1806.6 452.9 1807.7 459.3 1810 465C1812.3 470.8 1816.9 482 1818 482C1818.8 482 1823.7 474.2 1826 470C1830 462.8 1834.6 455.3 1836.5 447.5C1839 437.2 1839.2 425.6 1841.5 415C1843.2 407.4 1846 399.8 1849 392.5C1851.1 387.4 1853.4 381.9 1856.5 377.5C1858.5 374.7 1863.1 370 1864 370C1865.1 370 1870.5 375.2 1874 377.5C1878.8 380.6 1887.6 386 1889 386C1890.8 386 1896.1 367.5 1901.5 367.5C1905.7 367.5 1913.2 367.5 1919 367.5C1925.7 367.5 1937.2 369 1939 369C1940.8 369 1946.9 357.5 1951.5 352.5C1955.3 348.4 1959.7 344.7 1964 341C1968 337.5 1972 333.5 1976.5 331C1980.3 328.9 1984.7 326.8 1989 326C1993 325.2 1997.3 324.4 2001.5 324.4C2005.6 324.4 2009.9 324.4 2014 324.4C2018.2 324.4 2022.4 325.2 2026.5 326C2030.8 326.8 2034.9 328.5 2039 330C2043.2 331.5 2047.2 333.7 2051.5 335C2055.6 336.2 2059.8 337.1 2064 338C2068.2 338.9 2072.3 339.8 2076.5 340.6C2081 341.5 2085.5 342.3 2090 343"/>
<path stroke="#e19f00" d="M32.5 192.5C55 192.5 77.5 192.5 100 192.5C116.7 192.5 133.3 192.7 150 193C158.4 193.1 167 193.4 175.2 194.2C177 194.4 178.8 195.1 180.5 195.7C184.5 197 188.5 198.6 192.2 200.5C196.4 202.7 200.6 205.4 204.4 208.3C208.1 211.2 211.7 214.6 214.9 218.1C218.2 221.8 221.5 225.9 224.1 230.1C229 237.7 233.2 246 236.7 254.3C240.2 262.7 243.1 271.6 245.9 280.4C248.6 288.9 250.8 297.6 253.3 306.2C255.7 314.4 258.1 322.5 260.5 330.7C262.8 338.6 265.2 346.5 267.6 354.4C270 362.4 272.4 370.3 274.7 378.3C277.1 386.5 279.5 394.6 281.8 402.8C284.3 411.6 286.6 420.4 289.3 429.2C292 438.2 294.7 447.3 297.9 456.1C301.2 464.9 304.7 473.7 309.1 481.9C313.3 489.7 318.3 497.7 324.2 504.1C327.4 507.6 331.2 511.4 335.3 513.6C337.7 514.9 340.5 516.7 343.3 516.7C346.9 516.7 351 515.9 354.4 515.1C358.4 514 362.1 510 365.2 506.9C373.2 499.4 379.3 489.1 385.7 479.9C391.6 471.4 397.1 462.5 402.5 453.7C407.5 445.5 412.3 437.2 417 428.9C419.8 423.8 422.5 418.7 425.1 413.5C428.9 406.1 432.4 398.6 435.8 391.1C439.6 382.8 443.1 374.3 446.6 365.8C450.2 357.2 453.7 348.4 457.4 339.8C461.1 331.1 464.8 322.4 469 313.9C473.2 305.2 477.7 296.5 482.7 288.4C488 279.8 493.9 271.4 500.3 263.7C503.7 259.6 507.4 255.6 511.3 252C515.8 247.9 520.6 243.7 525.7 240.4C533.3 235.5 541.5 230.5 550 227.7C557.9 225.1 566.6 221.9 575 221.9C579.1 221.9 583.8 222.6 587.5 223.5C590.8 224.3 594.1 227.5 596.5 230C599.1 232.7 601.8 236.4 603 240C605.5 247.6 606.4 256.6 607.8 265C609.1 273.3 610.3 281.6 611.2 290C612.2 298.3 612.9 306.7 613.8 315C614.6 323.3 615.4 331.7 616.2 340C617.1 348.3 617.9 356.7 618.8 365C619.6 373.3 620.3 381.7 621.2 390C622.2 397.9 623.4 405.9 624.6 413.8C626.4 425.2 627.8 436.9 630.5 448C633.2 459.1 638.2 470 643 480.5C646.6 488.2 652.6 495.1 655.5 503C658.8 511.7 661 521.2 663 530.5C665 539.6 666.1 548.9 668 558C669.4 564.7 670.7 578 673 578C674.3 578 678 571.5 679 568C681.2 560.3 682.1 551.4 683 543C684.1 532.2 684.7 521.3 685.5 510.5C686.3 499.7 687.4 488.8 688 478C688.6 467.8 688.9 457.7 689.5 447.5C690.4 431.7 691.6 415.8 693 400C694.5 383.3 696.3 366.5 699 350C701.5 334.8 705.9 319.7 710.5 305C713.9 294 718 282.8 723 272.5C726.4 265.5 730.1 256.3 735.5 252.5C739.8 249.5 747.4 248.5 753 246C759.9 242.9 766.7 239.1 773 235C780.9 229.9 787.2 220.5 795.5 217.5C804.4 214.3 815.5 212.9 825.5 211C837.9 208.7 850.4 206.1 863 205C879.6 203.5 896.3 203.1 913 202C929.7 200.9 946.3 198.9 963 198C971.3 197.6 979.7 197 988 197C1000.7 197 1013.3 197.5 1026 197.5C1056.8 197.5 1087.7 195 1118.5 195C1146 195 1174 195.8 1201 197.5C1209.4 198 1217.5 203 1226 204C1232.6 204.8 1239.4 205.5 1246 205.5C1256.2 205.5 1265.8 198.6 1276 197.5C1288.3 196.2 1301 195 1313.5 195C1330.2 195 1348.5 196.4 1363.5 199C1368.9 199.9 1373 209 1378.5 209C1382.3 209 1386.9 209 1391 209C1396.9 209 1406.5 205 1408.5 205C1410 205 1417 208 1421 210C1426.2 212.6 1434.1 219.5 1436 219.5C1437.6 219.5 1446.1 216.6 1451 215C1457.7 212.8 1464.1 209.1 1471 207.5C1475.9 206.4 1484.2 205 1486 205C1488.3 205 1499.9 205.8 1506 207C1510.5 207.9 1514.4 212.2 1518.5 215C1521.9 217.4 1526.7 219.5 1528.5 222.5C1531.1 226.9 1532.5 234.1 1533.5 240C1535.2 249.8 1535.6 260 1537 270C1538.1 278.4 1539.4 286.7 1541 295C1542.5 302.7 1544.7 310.3 1546.5 318C1548.2 325.3 1549.2 333 1551.5 340C1552.6 343.5 1555.9 350 1556.5 350C1557.3 350 1561.4 340.1 1563 335C1565.2 327.7 1565.4 319.3 1568 312.5C1569.2 309.4 1573.1 304 1574 304C1574.9 304 1582.8 308 1584 308C1585 308 1590.1 307.8 1593 307.5C1595.9 307.2 1600.6 304 1601.5 304C1602.4 304 1607.7 307.6 1609 310C1612.2 315.7 1613.6 324.9 1615 332.5C1616.8 342.4 1617.6 352.5 1619 362.5C1620.3 371.7 1622.4 390 1623 390C1623.3 390 1626 380.1 1626.5 375C1627.7 362.7 1627.6 350 1628.5 337.5C1629.2 328.3 1629.3 312.1 1631.5 310C1632 309.5 1637.2 309 1638 309C1639 309 1645.1 310 1646.5 311C1649.2 313 1650 322 1651.5 327.5C1653.3 334.1 1655.6 347.5 1656.5 347.5C1657 347.5 1661.9 342.7 1664 340C1667.5 335.5 1672 325 1673 325C1673.7 325 1677.9 331.5 1679 335C1681.1 341.9 1681.2 350.2 1683 357.5C1683.8 360.9 1686.1 367.5 1686.5 367.5C1687.1 367.5 1690 355.9 1691.5 350C1694.4 338.4 1695.8 326.4 1699 315C1701.4 306.5 1705 297.8 1709 290C1711.7 284.7 1715 279 1719 275C1721.7 272.3 1727.9 268 1729 268C1729.9 268 1735.6 272.3 1736.5 275C1738.7 281.6 1739.1 291.6 1740 300C1741.3 312.5 1742.4 325 1743 337.5C1744 358.3 1744.1 379.2 1745 400C1745.7 416 1747.6 432 1748 448C1748.6 473 1748.5 498 1749 523C1749.5 548 1751.3 573 1753 598C1754.4 618.9 1756.5 639.7 1759 660.5C1761 677.2 1763.8 693.9 1766.5 710.5C1768.5 723 1771 735.5 1773 748C1774.2 755.5 1774.7 763.4 1776.5 770.5C1777.2 773.1 1779.7 778 1780 778C1780.7 778 1784 766.4 1785 760.5C1787 748.2 1787.3 735.4 1789 723C1790.3 713.8 1791.2 703.5 1794 695.5C1795 692.8 1799.2 690.7 1800 688C1802.4 680.1 1802.4 669.6 1804 660.5C1805.3 653 1806.7 645.2 1809 638C1810.7 632.8 1814.9 628.2 1816.5 623C1818.9 615.1 1820.6 606.4 1821.5 598C1823.3 581.5 1823.9 564.7 1825 548C1826.1 531.3 1827.2 514.7 1828 498C1828.8 481.3 1829.2 464.7 1830 448C1830.8 432 1831.5 415.9 1833 400C1833.7 392.5 1834.4 383.9 1836.5 377.5C1837.4 374.7 1841.6 372.8 1843 370C1845.9 364.2 1847.1 356.7 1849 350C1851.1 342.5 1851.7 333.1 1855 327.5C1856.2 325.5 1860.9 322.5 1861.5 322.5C1862.2 322.5 1865.8 327.3 1866.5 330C1868.6 337.5 1868.8 346.7 1870 355C1871.2 363.3 1871.6 372.9 1874 380C1874.7 382.2 1878.5 386 1879 386C1879.9 386 1885.1 378.9 1886.5 375C1889 368 1889.9 359.7 1891.5 352C1893.2 344 1894.5 335.9 1896.5 328C1897.9 322.3 1898.7 313.9 1901.5 311C1902.4 310.1 1906.3 309 1906.5 309C1907.2 309 1908.7 319.7 1910 325C1910.9 328.7 1912.6 336 1913 336C1913.6 336 1918.1 321 1919 321C1919.7 321 1924.2 326.9 1926.5 330C1929.2 333.5 1931 338 1934 341C1935.1 342.1 1937.7 344 1938 344C1938.6 344 1940.8 338.1 1941.5 335C1943.2 327.7 1943.3 319.7 1945 312.5C1946.2 307.3 1949 302.3 1951.5 297.5C1953.7 293.2 1956.2 289 1959 285C1961.7 281.1 1964.7 277.3 1968 274C1970.6 271.4 1973.3 268.2 1976.5 267C1979.5 265.9 1985.3 264.7 1986.5 264.7C1987.7 264.7 1993.4 265.9 1996.5 267C2000.6 268.4 2004.4 271.4 2008 274C2012.2 277 2016.1 280.6 2020 284C2024.4 287.9 2029.1 291.6 2033 296C2036.1 299.5 2038.6 303.7 2041.5 307.5C2043.6 310.3 2045.3 315.4 2048 316C2050.8 316.6 2055.3 317 2059 317C2069.3 317 2079.6 317 2090 317"/>
</g>
<line x1="71" y1="818" x2="96.5" y2="946" stroke="#000" stroke-width="5.5"/>
<g stroke="#000" stroke-dasharray="19.4 15">
<line x1="350.5" y1="114.7" x2="354.2" y2="1404" stroke-width="9.6" stroke-dashoffset="0"/>
<line x1="675.4" y1="128" x2="679" y2="1436" stroke-width="8.4" stroke-dashoffset="12.6"/>
<line x1="1379.8" y1="121.5" x2="1382.2" y2="1272" stroke-width="8.3" stroke-dashoffset="0"/>
<line x1="1592" y1="33" x2="1600.5" y2="1175" stroke-width="8.3" stroke-dashoffset="8.6"/>
<line x1="1789" y1="177.5" x2="1777.5" y2="1561" stroke-width="8.3" stroke-dashoffset="6.4"/>
<line x1="1851" y1="166" x2="1855.8" y2="1351" stroke-width="8.3" stroke-dashoffset="0"/>
<line x1="1898.5" y1="122.5" x2="1904" y2="1308" stroke-width="8.3" stroke-dashoffset="0"/>
<line x1="1984.5" y1="33" x2="1989" y2="1218.5" stroke-width="8.3" stroke-dashoffset="0"/>
</g>
<rect x="32" y="30.75" width="2058.5" height="1572.25" fill="none" stroke="#000" stroke-width="5.5"/>
<g stroke="#000">
<line x1="1996.9" y1="1603" x2="1996.9" y2="1616" stroke-width="5"/>
<line x1="1841" y1="1603" x2="1841" y2="1632.5" stroke-width="6"/>
<line x1="1685.1" y1="1603" x2="1685.1" y2="1616" stroke-width="5"/>
<line x1="1529.1" y1="1603" x2="1529.1" y2="1632.5" stroke-width="6"/>
<line x1="1373.2" y1="1603" x2="1373.2" y2="1616" stroke-width="5"/>
<line x1="1217.2" y1="1603" x2="1217.2" y2="1632.5" stroke-width="6"/>
<line x1="1061.3" y1="1603" x2="1061.3" y2="1616" stroke-width="5"/>
<line x1="905.4" y1="1603" x2="905.4" y2="1632.5" stroke-width="6"/>
<line x1="749.4" y1="1603" x2="749.4" y2="1616" stroke-width="5"/>
<line x1="593.5" y1="1603" x2="593.5" y2="1632.5" stroke-width="6"/>
<line x1="437.5" y1="1603" x2="437.5" y2="1616" stroke-width="5"/>
<line x1="281.6" y1="1603" x2="281.6" y2="1632.5" stroke-width="6"/>
<line x1="125.7" y1="1603" x2="125.7" y2="1616" stroke-width="5"/>
</g>
<text transform="translate(42.3 150) scale(1.0895 1)" font-size="57">140min</text>
<text transform="translate(31 291) scale(1.0448 1)" font-size="57">110min</text>
<text transform="translate(37.3 421) scale(1.0667 1)" font-size="57">80min</text>
<text transform="translate(35 560) scale(1.0948 1)" font-size="57">50min</text>
<text transform="translate(36.8 708) scale(1.1158 1)" font-size="57">20min</text>
<text transform="translate(53.5 1012) scale(1.0986 1)" font-size="57">0min</text>
<text transform="translate(290.4 1482.5) scale(1.1205 1)" font-size="57">3400</text>
<text transform="translate(578.8 1512.5) scale(1.1217 1)" font-size="57">2930</text>
<text transform="translate(1230.8 1286) scale(1.0934 1)" font-size="57">1740</text>
<text transform="translate(1558.3 1251) scale(1.0892 1)" font-size="57">1460</text>
<text transform="translate(1607.8 1550) scale(1.1017 1)" font-size="57">1110</text>
<text transform="translate(1833.2 1423.8) scale(1.1124 1)" font-size="57">990</text>
<text transform="translate(1916.7 1348.8) scale(1.105 1)" font-size="57">821</text>
<text transform="translate(1970.9 1272.5) scale(1.1028 1)" font-size="57">695</text>
<text transform="translate(219.8 1694.7) scale(1.1002 1)" font-size="50">3500</text>
<text transform="translate(532.8 1694.7) scale(1.1002 1)" font-size="50">3000</text>
<text transform="translate(842.7 1694.7) scale(1.1194 1)" font-size="50">2500</text>
<text transform="translate(1154.2 1694.7) scale(1.1148 1)" font-size="50">2000</text>
<text transform="translate(1466.5 1694.7) scale(1.105 1)" font-size="50">1500</text>
<text transform="translate(1779.9 1694.7) scale(1.105 1)" font-size="50">1000</text>
<text transform="translate(796 1823.3) scale(1.0893 1)" font-size="65" font-weight="bold">Wavenumber</text>
<text transform="translate(1259.2 1822.6) scale(0.9652 1)" font-size="54.4" font-family='&quot;Liberation Serif&quot;,&quot;Times New Roman&quot;,serif'>(</text>
<text transform="translate(1277.6 1823.5) scale(1.0901 1)" font-size="65" font-weight="bold">cm</text>
<text transform="translate(1380.9 1791.2) scale(1.0223 1)" font-size="72.5" font-weight="bold">-</text>
<text transform="translate(1403.5 1790.2) scale(1.09 1)" font-size="67" font-weight="bold">1</text>
<text transform="translate(1444.4 1822.6) scale(0.989 1)" font-size="54.4" font-family='&quot;Liberation Serif&quot;,&quot;Times New Roman&quot;,serif'>)</text>
</svg>
</body></html>
